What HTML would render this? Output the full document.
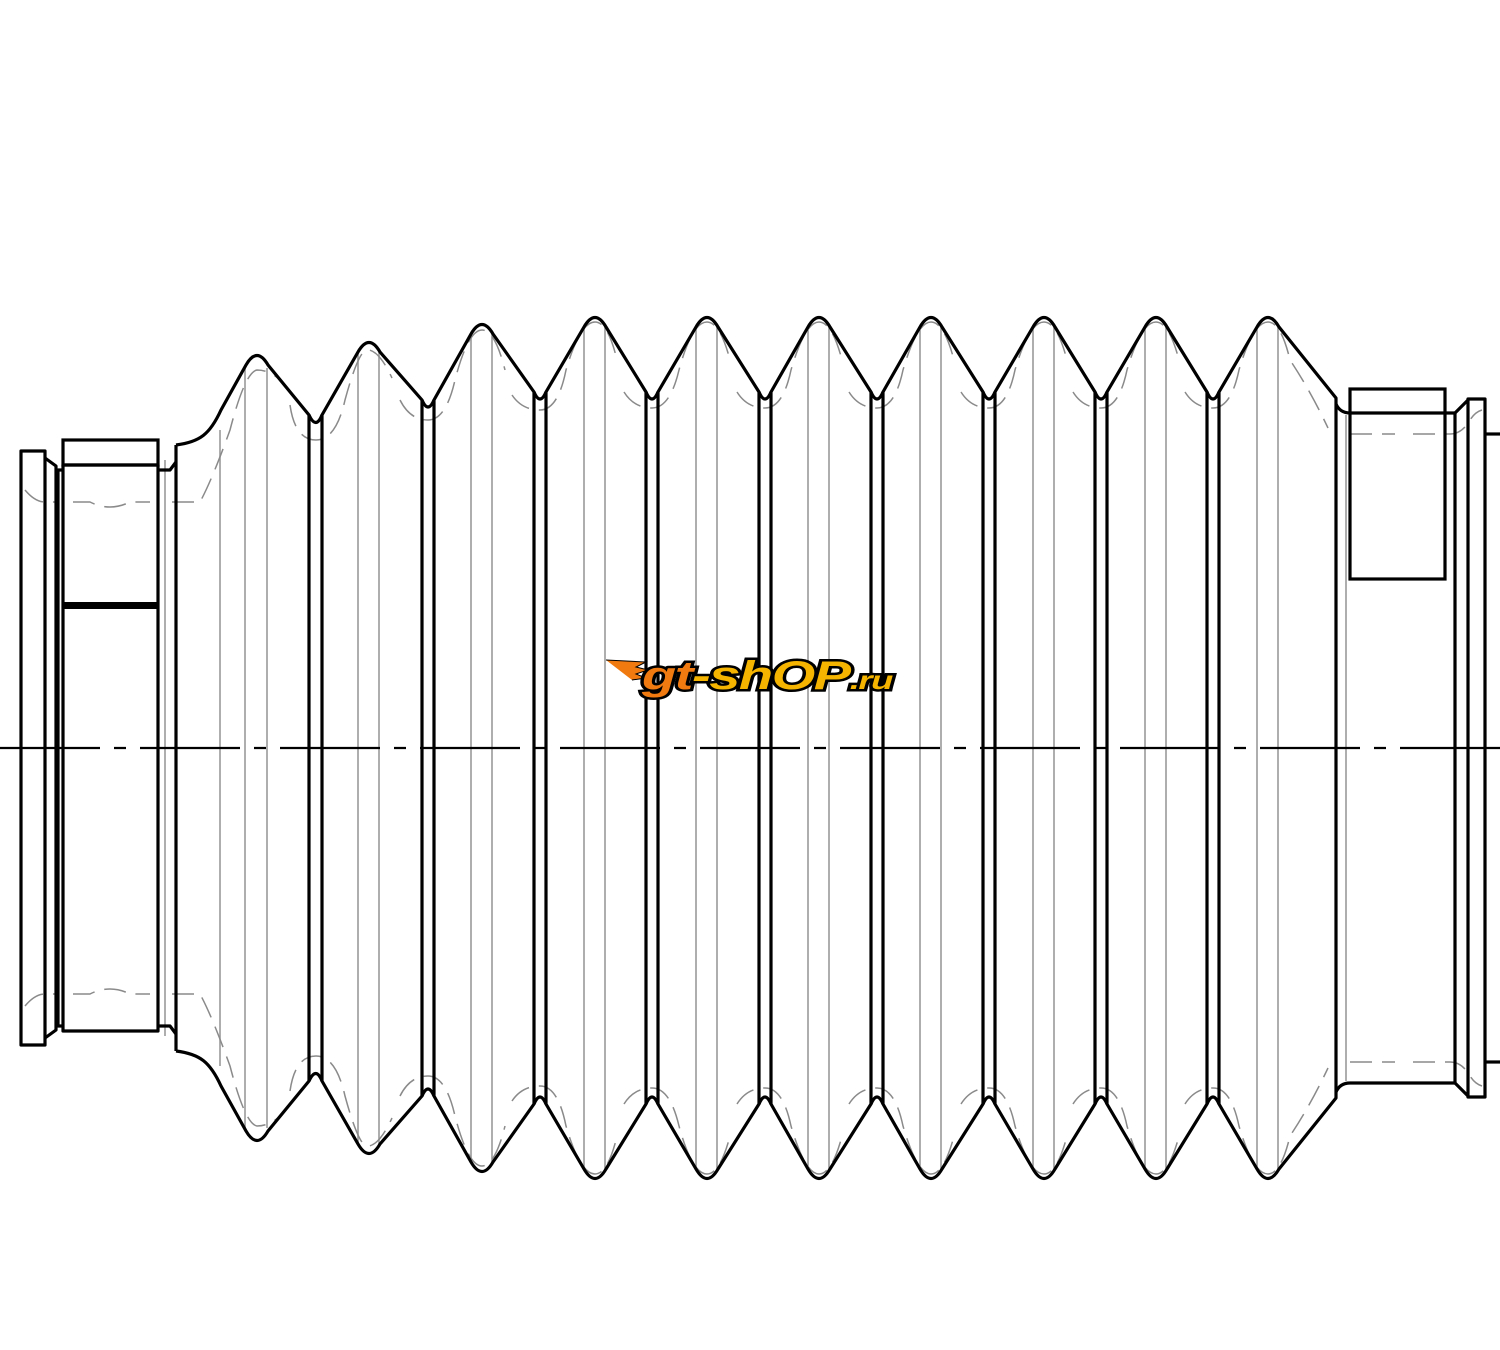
<!DOCTYPE html>
<html><head><meta charset="utf-8"><style>
html,body{margin:0;padding:0;background:#fff;}
svg{display:block;}
</style></head><body>
<svg width="1500" height="1350" viewBox="0 0 1500 1350" xmlns="http://www.w3.org/2000/svg">
<defs>
<g id="top">
 <g stroke="#9a9a9a" stroke-width="1.6" fill="none">
  <line x1="165" y1="460" x2="165" y2="748"/>
  <line x1="220" y1="430" x2="220" y2="748"/>
  <line x1="245" y1="368" x2="245" y2="748"/><line x1="267" y1="368" x2="267" y2="748"/>
  <line x1="358" y1="352" x2="358" y2="748"/><line x1="379" y1="352" x2="379" y2="748"/>
  <line x1="471" y1="334" x2="471" y2="748"/><line x1="492" y1="334" x2="492" y2="748"/>
  <line x1="584" y1="327" x2="584" y2="748"/><line x1="605" y1="327" x2="605" y2="748"/>
  <line x1="696" y1="327" x2="696" y2="748"/><line x1="717" y1="327" x2="717" y2="748"/>
  <line x1="808" y1="327" x2="808" y2="748"/><line x1="829" y1="327" x2="829" y2="748"/>
  <line x1="920" y1="327" x2="920" y2="748"/><line x1="941" y1="327" x2="941" y2="748"/>
  <line x1="1033" y1="327" x2="1033" y2="748"/><line x1="1054" y1="327" x2="1054" y2="748"/>
  <line x1="1145" y1="327" x2="1145" y2="748"/><line x1="1166" y1="327" x2="1166" y2="748"/>
  <line x1="1257" y1="327" x2="1257" y2="748"/><line x1="1278" y1="327" x2="1278" y2="748"/>
  <line x1="1346" y1="415" x2="1346" y2="748"/>
 </g>
 <g stroke="#8a8a8a" stroke-width="1.5" fill="none" stroke-dasharray="22,10">
  <path d="M25,490 Q35,502 45,502 L55,502 M73,502 L90,502 Q110,512 130,502 L150,502 M172,502 L200,502 Q212,480 230,430 Q245,372 257,370 Q272,370 285,385"/>
  <path d="M290,405 Q295,440 316,440 Q336,440 345,400 Q360,345 369,350 Q380,352 392,378"/>
  <path d="M400,400 Q410,420 428,420 Q446,420 455,380 Q468,330 482,330 Q495,330 505,370"/>
  <path d="M512,395 Q522,410 540,410 Q558,410 566,370 Q580,322 595,322 Q608,322 617,360"/>
  <path d="M624,392 Q634,408 652,408 Q670,408 679,370 Q692,322 707,322 Q720,322 730,360"/>
  <path d="M737,392 Q747,408 765,408 Q783,408 791,370 Q805,322 819,322 Q832,322 842,360"/>
  <path d="M849,392 Q859,408 877,408 Q895,408 903,370 Q917,322 931,322 Q944,322 954,360"/>
  <path d="M961,392 Q971,408 989,408 Q1007,408 1015,370 Q1029,322 1044,322 Q1057,322 1067,360"/>
  <path d="M1073,392 Q1083,408 1101,408 Q1119,408 1127,370 Q1141,322 1156,322 Q1169,322 1179,360"/>
  <path d="M1185,392 Q1195,408 1213,408 Q1231,408 1239,370 Q1253,322 1268,322 Q1281,322 1290,360 Q1310,390 1328,428"/>
  <path d="M1350,434 L1395,434 M1413,434 L1450,434 Q1462,434 1470,420 Q1475,412 1482,410"/>
 </g>
 <g stroke="#000" stroke-width="3.2" fill="none" stroke-linejoin="round">
  <path d="M21,748 L21,451 L45,451 L45,748"/>
  <path d="M45,458 L56,466 L56,748"/>
  <path d="M58,748 L58,470 L63,470"/>
  <path d="M63,748 L63,465 L158,465 L158,748"/>
  <path d="M158,470 L170,470 L176,462"/>
  <line x1="176" y1="445" x2="176" y2="748"/>
  <path d="M176,445 C200,442 210,434 221,410 L246,365 Q257,346 268,365 L309,415 L309,748"/>
  <path d="M309,415 Q316,430 322,415"/>
  <path d="M322,748 L322,415 L358,352 Q369,333 380,352 L422,400 L422,748"/>
  <path d="M422,400 Q428,414 434,400"/>
  <path d="M434,748 L434,400 L471,334 Q482,315 493,334 L534,392 L534,748"/>
  <path d="M534,392 Q540,406 546,392"/>
  <path d="M546,748 L546,392 L584,327 Q595,308 606,327 L646,392 L646,748"/>
  <path d="M646,392 Q652,406 658,392"/>
  <path d="M658,748 L658,392 L696,327 Q707,308 718,327 L759,392 L759,748"/>
  <path d="M759,392 Q765,406 771,392"/>
  <path d="M771,748 L771,392 L808,327 Q819,308 830,327 L871,392 L871,748"/>
  <path d="M871,392 Q877,406 883,392"/>
  <path d="M883,748 L883,392 L920,327 Q931,308 942,327 L983,392 L983,748"/>
  <path d="M983,392 Q989,406 995,392"/>
  <path d="M995,748 L995,392 L1033,327 Q1044,308 1055,327 L1095,392 L1095,748"/>
  <path d="M1095,392 Q1101,406 1107,392"/>
  <path d="M1107,748 L1107,392 L1145,327 Q1156,308 1167,327 L1207,392 L1207,748"/>
  <path d="M1207,392 Q1213,406 1219,392"/>
  <path d="M1219,748 L1219,392 L1257,327 Q1268,308 1279,327 L1336,398 L1336,748"/>
  <path d="M1336,404 Q1340,413 1350,413 L1455,413"/>
  <line x1="1455" y1="413" x2="1455" y2="748"/>
  <path d="M1455,413 L1468,400"/>
  <path d="M1468,748 L1468,399 L1485,399 L1485,748"/>
  <line x1="1485" y1="434" x2="1500" y2="434"/>
 </g>
</g>
</defs>
<use href="#top"/>
<use href="#top" transform="matrix(1,0,0,-1,0,1496)"/>
<rect x="1350" y="389" width="95" height="190" fill="none" stroke="#000" stroke-width="3.2"/>
<rect x="63" y="440" width="95" height="25" fill="none" stroke="#000" stroke-width="3.2"/>
<rect x="63" y="602" width="95" height="7" fill="#000"/>
<line x1="0" y1="748" x2="1500" y2="748" stroke="#000" stroke-width="2.2" stroke-dasharray="100,14,12,14"/>
<g transform="translate(606,658)">
 <path d="M0,2 L40,4 L30,9 L42,12 L30,16 L40,20 L26,22" fill="#f07a10" stroke="#000" stroke-width="1"/>
 <text x="36" y="31" font-family="Liberation Sans, sans-serif" font-weight="bold" font-style="italic" font-size="40" stroke="#000" stroke-width="5" paint-order="stroke" letter-spacing="-1" textLength="250" lengthAdjust="spacingAndGlyphs"><tspan fill="#f07a10">gt</tspan><tspan fill="#f5b400">-shOP</tspan><tspan fill="#f5b400" font-size="26">.ru</tspan></text>
</g>
</svg>
</body></html>
